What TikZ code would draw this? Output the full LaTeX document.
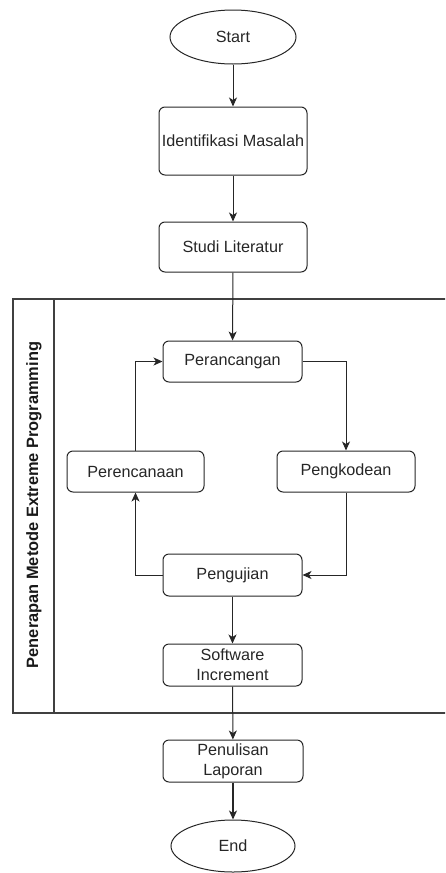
\documentclass[tikz,border=0pt]{standalone}
\usepackage{fontspec}
\setmainfont{Liberation Sans}
\usetikzlibrary{shapes.geometric,arrows.meta,positioning}
\begin{document}
\begin{tikzpicture}[x=1pt,y=-1pt,
  font=\fontsize{16.2}{19}\selectfont,
  box/.style={draw=black!85,line width=1pt,rounded corners=6pt,align=center,inner sep=0pt,text=black!85},
  term/.style={draw=black!85,line width=1pt,ellipse,inner sep=0pt,text=black!85},
  conn/.style={draw=black!85,line width=1pt,-{Stealth[length=9pt,width=8pt,inset=2.5pt]}},
  lane/.style={draw=black!75,line width=1.1pt}]
\useasboundingbox (0,0) rectangle (445,873);
\clip (0,0) rectangle (445,873);
% swimlane
\draw[lane] (450,299) -- (13,299) -- (13,713) -- (450,713);
\draw[lane] (54,299) -- (54,713);
\node[rotate=90,font=\fontsize{16.4}{19}\selectfont\bfseries,text=black!90] (lanelabel) at (34,505) {Penerapan Metode Extreme Programming};
% nodes
\node[term,minimum width=126pt,minimum height=54pt] (start) at (233,37) {Start};
\node[box,minimum width=148pt,minimum height=68pt] (ident) at (233,141) {Identifikasi Masalah};
\node[box,minimum width=148pt,minimum height=50pt] (studi) at (233,247) {Studi Literatur};
\node[box,minimum width=139pt,minimum height=41pt] (rancang) at (232.5,361.5) {Perancangan};
\node[box,minimum width=137pt,minimum height=41pt] (rencana) at (135.5,471.5) {Perencanaan};
\node[box,minimum width=138pt,minimum height=41pt] (kode) at (346,471.5) {Pengkodean};
\node[box,minimum width=139pt,minimum height=42pt] (uji) at (232.5,575) {Pengujian};
\node[box,minimum width=139pt,minimum height=42pt,font=\fontsize{16.2}{20}\selectfont] (soft) at (232.5,665) {Software\\Increment};
\node[box,minimum width=140pt,minimum height=42pt,font=\fontsize{16.2}{20}\selectfont] (tulis) at (233,761) {Penulisan\\Laporan};
\node[term,minimum width=124pt,minimum height=52pt] (end) at (233,846) {End};
% connectors
\draw[conn] (start) -- (ident);
\draw[conn] (ident) -- (studi);
\draw[conn] (studi) -- (rancang);
\draw[conn] (rancang.east) -| (kode.north);
\draw[conn] (kode.south) |- (uji.east);
\draw[conn] (uji.west) -| (rencana.south);
\draw[conn] (rencana.north) |- (rancang.west);
\draw[conn] (uji) -- (soft);
\draw[conn] (soft) -- (tulis);
\draw[conn,line width=1.6pt] (tulis) -- (end);
\end{tikzpicture}
\end{document}
